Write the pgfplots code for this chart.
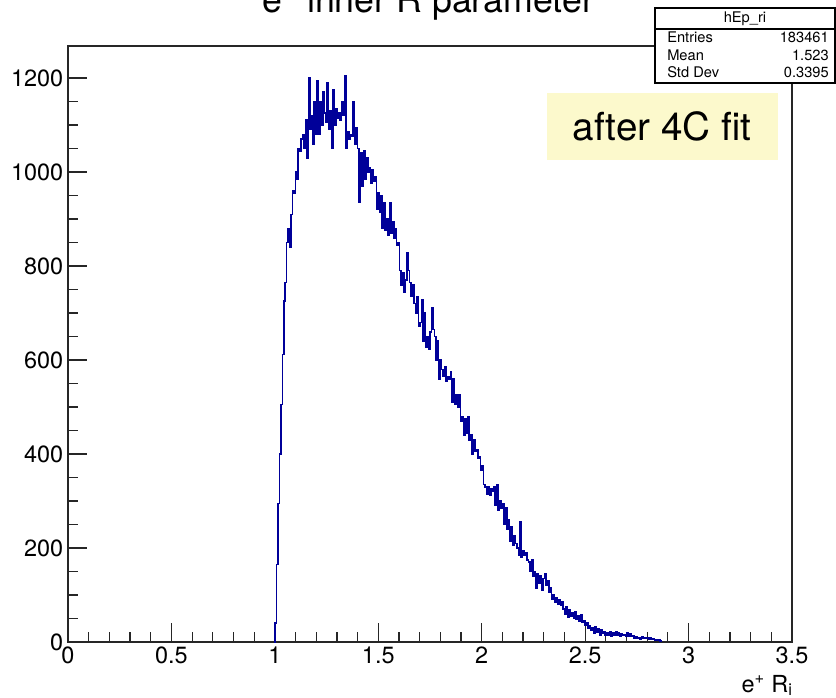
\documentclass[border=0pt]{standalone}
\usepackage{fontspec}
\setmainfont{TeX Gyre Heros}
\usepackage{pgfplots}
\usepackage{pgfplotstable}
\pgfplotsset{compat=1.18}
\definecolor{histblue}{RGB}{0,0,153}
\definecolor{notebg}{RGB}{252,249,204}

\pgfplotstableread{
x v
0.994 0
1.001 40
1.008 165
1.015 295
1.022 400
1.029 505
1.036 612
1.043 725
1.050 765
1.057 850
1.064 880
1.071 840
1.078 910
1.085 960
1.092 955
1.099 1000
1.106 985
1.113 1050
1.120 1045
1.127 1070
1.134 1080
1.141 1050
1.148 1110
1.155 1030
1.162 1200
1.169 1090
1.176 1120
1.183 1060
1.190 1150
1.197 1080
1.204 1195
1.211 1080
1.218 1150
1.225 1100
1.232 1170
1.239 1125
1.246 1105
1.253 1190
1.260 1090
1.267 1130
1.274 1050
1.281 1175
1.288 1100
1.295 1135
1.302 1115
1.309 1125
1.316 1110
1.323 1150
1.330 1120
1.337 1205
1.344 1050
1.351 1085
1.358 1070
1.365 1080
1.372 1075
1.379 1150
1.386 1060
1.393 1095
1.400 1050
1.407 935
1.414 1040
1.421 970
1.428 1045
1.435 985
1.442 1030
1.449 1000
1.456 1010
1.463 975
1.470 1005
1.477 980
1.484 990
1.491 920
1.498 955
1.505 915
1.512 950
1.519 880
1.526 935
1.533 875
1.540 900
1.547 865
1.554 935
1.561 870
1.568 895
1.575 860
1.582 880
1.589 845
1.596 850
1.603 790
1.610 760
1.617 785
1.624 745
1.631 770
1.638 828
1.645 790
1.652 765
1.659 735
1.666 760
1.673 720
1.680 700
1.687 735
1.694 672
1.701 680
1.708 728
1.715 640
1.722 700
1.729 628
1.736 650
1.743 622
1.750 660
1.757 712
1.764 665
1.771 650
1.778 600
1.785 640
1.792 560
1.799 600
1.806 580
1.813 565
1.820 585
1.827 555
1.834 565
1.841 560
1.848 575
1.855 510
1.862 560
1.869 505
1.876 525
1.883 500
1.890 525
1.897 470
1.904 480
1.911 440
1.918 475
1.925 445
1.932 480
1.939 430
1.946 440
1.953 400
1.960 430
1.967 405
1.974 410
1.981 390
1.988 395
1.995 365
2.002 375
2.009 335
2.016 330
2.023 315
2.030 330
2.037 312
2.044 325
2.051 320
2.058 330
2.065 290
2.072 335
2.079 280
2.086 300
2.093 285
2.100 295
2.107 250
2.114 285
2.121 240
2.128 260
2.135 215
2.142 245
2.149 205
2.156 225
2.163 210
2.170 200
2.177 185
2.184 255
2.191 180
2.198 195
2.205 185
2.212 190
2.219 175
2.226 170
2.233 150
2.240 175
2.247 140
2.254 150
2.261 115
2.268 145
2.275 125
2.282 140
2.289 110
2.296 135
2.303 145
2.310 120
2.317 130
2.324 105
2.331 115
2.338 90
2.345 100
2.352 85
2.359 95
2.366 80
2.373 90
2.380 78
2.387 85
2.394 70
2.401 60
2.408 75
2.415 52
2.422 68
2.429 55
2.436 62
2.443 50
2.450 65
2.457 48
2.464 55
2.471 45
2.478 58
2.485 42
2.492 45
2.499 36
2.506 40
2.513 30
2.520 35
2.527 25
2.534 30
2.541 18
2.548 32
2.555 20
2.562 28
2.569 15
2.576 25
2.583 18
2.590 22
2.597 14
2.604 20
2.611 15
2.618 22
2.625 12
2.632 20
2.639 14
2.646 22
2.653 15
2.660 20
2.667 13
2.674 18
2.681 14
2.688 16
2.695 12
2.702 20
2.709 13
2.716 17
2.723 12
2.730 14
2.737 8
2.744 12
2.751 7
2.758 10
2.765 6
2.772 12
2.779 8
2.786 10
2.793 7
2.800 9
2.807 6
2.814 8
2.821 5
2.828 6
2.835 4
2.842 5
2.849 3
2.856 4
2.863 2
2.870 0
}\histdata

\begin{document}
\begin{tikzpicture}
\begin{axis}[
  at={(0,0)}, anchor=south west,
  scale only axis, width=543pt, height=447pt,
  xmin=0, xmax=3.5, ymin=0, ymax=1268,
  xtick={0,0.5,1,1.5,2,2.5,3,3.5},
  xticklabels={0,0.5,1,1.5,2,2.5,3,3.5},
  ytick={0,200,400,600,800,1000,1200},
  minor x tick num=4, minor y tick num=3,
  tick align=inside, tick pos=left,
  major tick length=14.25pt, minor tick length=7.5pt,
  axis line style={line width=1.1pt, black!85},
  every tick/.style={line width=0.9pt, black!85},
  ticklabel style={font=\fontsize{17.6}{20}\selectfont},
  /pgf/number format/assume math mode=true,
  /pgf/number format/1000 sep={},
  clip=false,
]
\addplot[const plot, color=histblue, line width=1.15pt] table[x=x, y=v] {\histdata};
\end{axis}
\begin{scope}[shift={(-51pt,481.5pt)}, x=0.75pt, y=-0.75pt]
  \node[anchor=base, font=\fontsize{26.8}{30}\selectfont, inner sep=0pt] at (428,13) {e\textsuperscript{+} inner R parameter};
  \draw[fill=white, line width=0.8pt] (655,8) rectangle (835,83);
  \draw[line width=0.8pt] (655,29) -- (835,29);
  \node[anchor=base, font=\fontsize{11}{13}\selectfont, inner sep=0pt] at (745,23) {hEp\_ri};
  \node[anchor=base west, font=\fontsize{11}{13}\selectfont, inner sep=0pt] at (667,43) {Entries};
  \node[anchor=base east, font=\fontsize{11}{13}\selectfont, inner sep=0pt] at (829,43) {183461};
  \node[anchor=base west, font=\fontsize{11}{13}\selectfont, inner sep=0pt] at (667,61) {Mean};
  \node[anchor=base east, font=\fontsize{11}{13}\selectfont, inner sep=0pt] at (829,61) {1.523};
  \node[anchor=base west, font=\fontsize{11}{13}\selectfont, inner sep=0pt] at (667,78) {Std Dev};
  \node[anchor=base east, font=\fontsize{11}{13}\selectfont, inner sep=0pt] at (829,78) {0.3395};
  \fill[notebg] (547,93) rectangle (778,160);
  \node[anchor=base, font=\fontsize{29}{32}\selectfont, inner sep=0pt] at (662,141) {after 4C fit};
  \node[anchor=base east, font=\fontsize{17.6}{20}\selectfont, inner sep=0pt] at (793,692) {e\textsuperscript{+} R\textsubscript{i}};
  \pgfresetboundingbox
  \path[use as bounding box] (0,0) rectangle (836,697);
\end{scope}
\end{tikzpicture}
\end{document}
